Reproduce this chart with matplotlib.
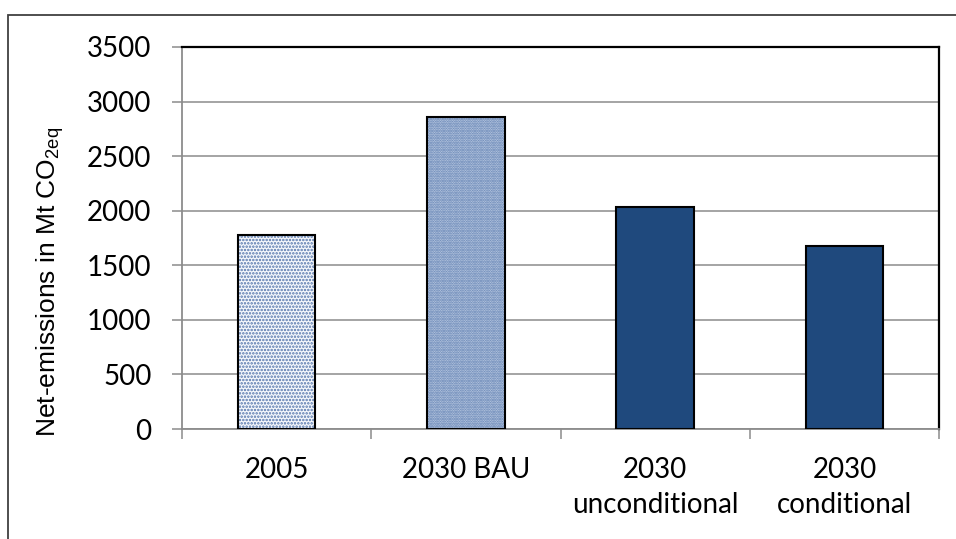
import matplotlib.pyplot as plt
import matplotlib.patches as mpatches
import numpy as np

categories = ['2005', '2030 BAU', '2030\nunconditional', '2030\nconditional']
values = [1780, 2860, 2030, 1680]
y_ticks = [0, 500, 1000, 1500, 2000, 2500, 3000, 3500]

face_colors = ['#f6f8fc', '#c4d1e6', '#1f497d', '#1f497d']
dot_colors = ['#5274ab', '#5678ad', '#1f497d', '#1f497d']
hatches = ['.' * 5, '.' * 7, None, None]

plt.rcParams['font.family'] = ['Lato', 'DejaVu Sans']
plt.rcParams['mathtext.default'] = 'regular'
plt.rcParams['hatch.linewidth'] = 1.2

fig = plt.figure(figsize=(9.56, 5.39), dpi=100)
ax = fig.add_axes([182 / 956, 1 - 429 / 539, (939 - 182) / 956, (429 - 47) / 539])

x = np.arange(len(categories))
w = 0.41
for i in range(len(x)):
    ax.bar(x[i], values[i], width=w, color=face_colors[i], edgecolor=dot_colors[i],
           hatch=hatches[i], linewidth=0, zorder=3)
ax.bar(x, values, width=w, fill=False, edgecolor='black', linewidth=1.5, zorder=4)

ax.set_xlim(-0.5, len(categories) - 0.5)
ax.set_ylim(0, 3500)
ax.set_yticks(y_ticks)
ax.set_yticklabels([str(v) for v in y_ticks], fontsize=20)
ax.yaxis.grid(True, color='#8c8c8c', linewidth=1.1, zorder=0)

ax.set_xticks(x)
ax.set_xticklabels(categories, fontsize=20, linespacing=1.45)
ax.set_xticks(np.arange(len(categories) + 1) - 0.5, minor=True)
ax.tick_params(axis='x', which='major', length=0, pad=20)
ax.tick_params(axis='x', which='minor', length=7, width=1.1, color='#8c8c8c')
ax.tick_params(axis='y', length=7, width=1.1, color='#8c8c8c', pad=15)

for s in ['top', 'right']:
    ax.spines[s].set_color('black')
    ax.spines[s].set_linewidth(1.6)
for s in ['left', 'bottom']:
    ax.spines[s].set_color('#8c8c8c')
    ax.spines[s].set_linewidth(1.3)

fig.text(50 / 956, 1 - 282 / 539, r'Net-emissions in Mt CO$_{2eq}$',
         rotation=90, ha='center', va='center', fontsize=19, family='Liberation Sans')

fig.patches.append(mpatches.Rectangle((8 / 956, -0.1), 1.2, 1.1 - 15 / 539,
                                      transform=fig.transFigure, fill=False,
                                      edgecolor='#404040', linewidth=1.3))

fig.savefig('out.png', dpi=100)
